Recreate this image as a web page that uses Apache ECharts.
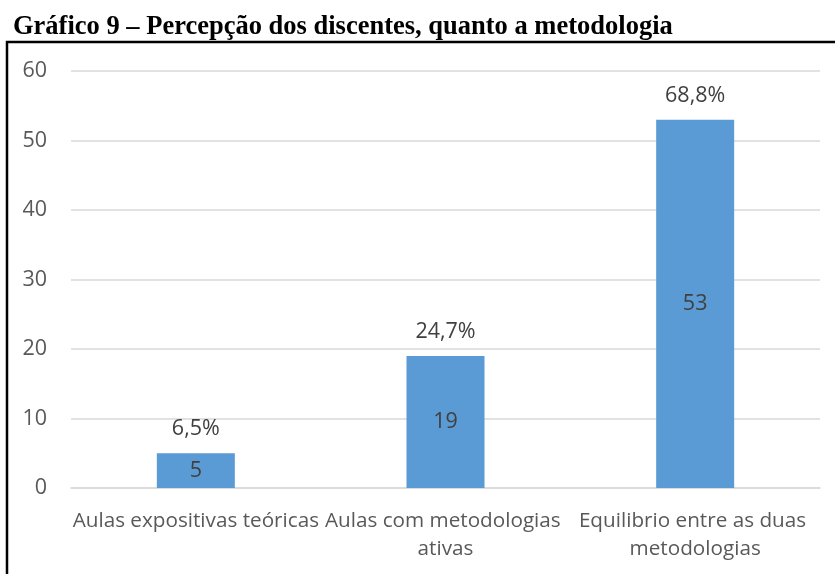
<!DOCTYPE html>
<html>
<head>
<meta charset="utf-8">
<script src="https://cdn.jsdelivr.net/npm/echarts@6/dist/echarts.min.js"></script>
<style>html,body{margin:0;padding:0;background:#fff;}#c{width:835px;height:574px;}</style>
</head>
<body>
<div id="c"></div>
<script>
const titleText = 'Gráfico 9 – Percepção dos discentes, quanto a metodologia';
const categories = ['Aulas expositivas teóricas', 'Aulas com metodologias ativas', 'Equilibrio entre as duas metodologias'];
const counts = [5, 19, 53];
const percentLabels = ['6,5%', '24,7%', '68,8%'];
const yTicks = [0, 10, 20, 30, 40, 50, 60];

const chart = echarts.init(document.getElementById('c'), null, {renderer: 'canvas'});
const font = '"Open Sans", "Noto Sans", sans-serif';
const fs = 21.5;
chart.setOption({
  animation: false,
  backgroundColor: '#ffffff',
  title: {
    text: titleText,
    left: 8, top: 7, padding: [5, 5, 5, 5],
    textStyle: {fontFamily: '"Liberation Serif", "Times New Roman", serif', fontWeight: 'bold', fontSize: 26.5, color: '#000', lineHeight: 30}
  },
  graphic: [{
    type: 'polyline',
    shape: {points: [[7, 600], [7, 42], [840, 42]]},
    style: {stroke: '#000', lineWidth: 2.5, fill: null},
    silent: true
  }],
  grid: {left: 71, right: 15, top: 71, bottom: 86, containLabel: false},
  xAxis: {
    type: 'category',
    data: categories,
    axisLine: {show: true, lineStyle: {color: '#d9d9d9', width: 1.5}},
    axisTick: {show: false},
    axisLabel: {
      interval: 0, color: '#595959', fontFamily: font, fontSize: 20.7, margin: 19,
      width: 262, overflow: 'break', lineHeight: 28
    }
  },
  yAxis: {
    type: 'value', min: yTicks[0], max: yTicks[yTicks.length - 1], interval: 10,
    axisLine: {show: false}, axisTick: {show: false},
    axisLabel: {color: '#595959', fontFamily: font, fontSize: fs, margin: 24},
    splitLine: {lineStyle: {color: '#d9d9d9', width: 1.5}}
  },
  series: [{
    type: 'bar',
    data: counts,
    barWidth: 78,
    itemStyle: {color: '#5b9bd5'},
    label: {show: true, position: 'inside', color: '#404040', fontFamily: font, fontSize: fs},
    z: 2
  }, {
    type: 'bar',
    data: counts,
    barWidth: 78,
    barGap: '-100%',
    itemStyle: {color: 'rgba(0,0,0,0)'},
    label: {
      show: true, position: 'top', distance: 13, color: '#404040', fontFamily: font, fontSize: fs,
      formatter: p => percentLabels[p.dataIndex]
    },
    silent: true, z: 3
  }]
});
</script>
</body>
</html>
